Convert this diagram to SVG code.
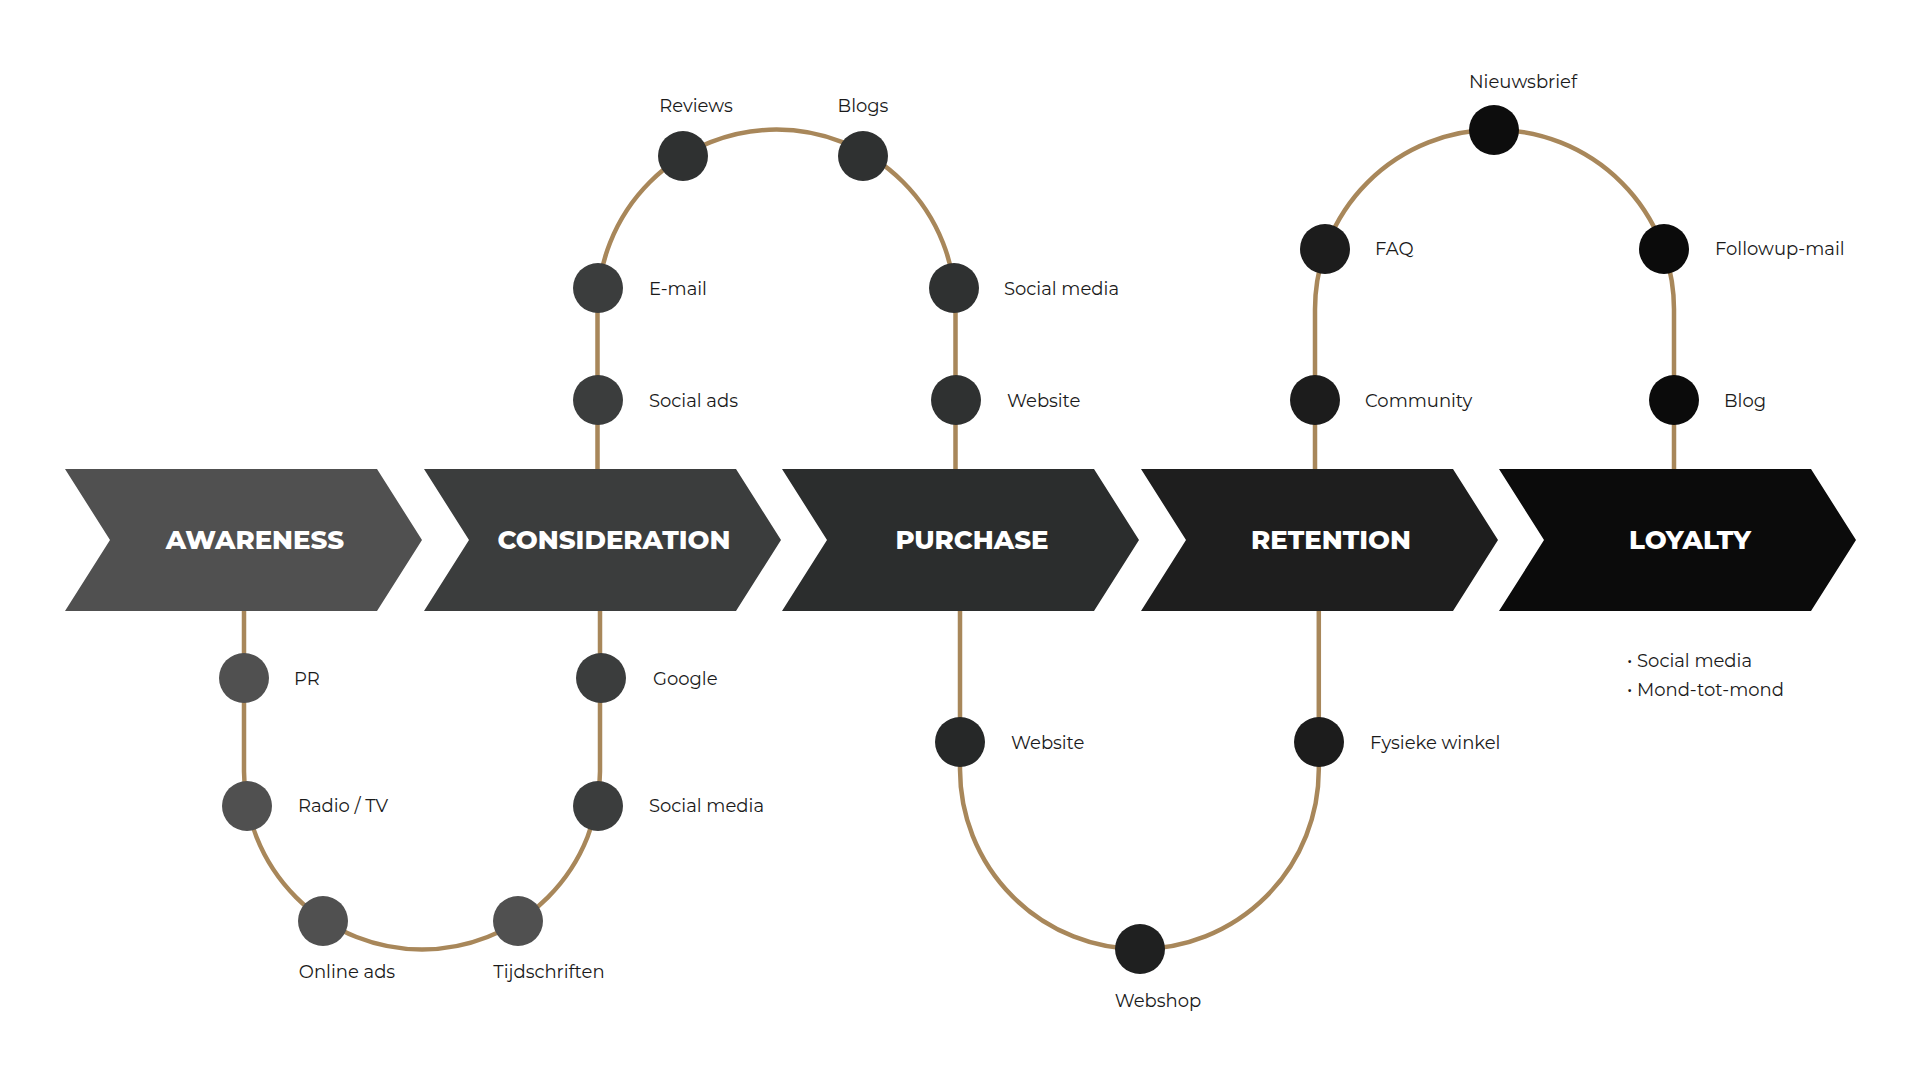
<svg xmlns="http://www.w3.org/2000/svg" width="1920" height="1080" viewBox="0 0 1920 1080">
<style>
.ln{fill:none;stroke:#a8875a;stroke-width:4.5}
.lb{font-family:Montserrat,"Open Sans","Liberation Sans",sans-serif;font-size:18px;fill:#1a1a1a}
.mid{text-anchor:middle}
.hd{font-family:Montserrat,"Open Sans","Liberation Sans",sans-serif;font-size:26px;font-weight:800;fill:#fff;text-anchor:middle}
</style>
<defs><path id="chev" d="M0,0 L312,0 L357,71 L312,142 L0,142 L45,71 Z"/></defs>
<rect width="1920" height="1080" fill="#fff"/>
<g id="connectors">
<path class="ln" d="M244,611 V771.5 A177.5,177.5 0 0 0 600,771.5 V611"/>
<path class="ln" d="M597.5,469 V308.6 A179,179 0 0 1 955.5,308.6 V469"/>
<path class="ln" d="M960,611 V769.6 A179.4,179.4 0 0 0 1318.8,769.6 V611"/>
<path class="ln" d="M1315,469 V309.2 A179.5,179.5 0 0 1 1674,309.2 V469"/>
</g>
<g id="awareness"><use href="#chev" x="65" y="469" fill="#505050"/><text class="hd" x="255" y="549">AWARENESS</text></g>
<g id="consideration"><use href="#chev" x="424" y="469" fill="#3b3d3d"/><text class="hd" x="614" y="549">CONSIDERATION</text></g>
<g id="purchase"><use href="#chev" x="782" y="469" fill="#2b2d2d"/><text class="hd" x="972" y="549">PURCHASE</text></g>
<g id="retention"><use href="#chev" x="1141" y="469" fill="#1e1e1e"/><text class="hd" x="1331" y="549">RETENTION</text></g>
<g id="loyalty"><use href="#chev" x="1499" y="469" fill="#0b0b0b"/><text class="hd" x="1690" y="549">LOYALTY</text></g>
<g id="pr"><circle cx="244" cy="678" r="25" fill="#505050"/><text class="lb" x="294" y="685">PR</text></g>
<g id="radio"><circle cx="247" cy="806" r="25" fill="#505050"/><text class="lb" x="298" y="812">Radio / TV</text></g>
<g id="onlineads"><circle cx="323" cy="921" r="25" fill="#505050"/><text class="lb mid" x="347" y="978">Online ads</text></g>
<g id="tijdschriften"><circle cx="518" cy="921" r="25" fill="#505050"/><text class="lb mid" x="549" y="978">Tijdschriften</text></g>
<g id="socialmedia1"><circle cx="598" cy="806" r="25" fill="#3b3d3d"/><text class="lb" x="649" y="812">Social media</text></g>
<g id="google"><circle cx="601" cy="678" r="25" fill="#3b3d3d"/><text class="lb" x="653" y="685">Google</text></g>
<g id="socialads"><circle cx="598" cy="400" r="25" fill="#3b3d3d"/><text class="lb" x="649" y="407">Social ads</text></g>
<g id="email"><circle cx="598" cy="288" r="25" fill="#3b3d3d"/><text class="lb" x="649" y="295">E-mail</text></g>
<g id="reviews"><circle cx="683" cy="156" r="25" fill="#2f3131"/><text class="lb mid" x="696" y="112">Reviews</text></g>
<g id="blogs"><circle cx="863" cy="156" r="25" fill="#2f3131"/><text class="lb mid" x="863" y="112">Blogs</text></g>
<g id="socialmedia2"><circle cx="954" cy="288" r="25" fill="#2f3131"/><text class="lb" x="1004" y="295">Social media</text></g>
<g id="website1"><circle cx="956" cy="400" r="25" fill="#2f3131"/><text class="lb" x="1007" y="407">Website</text></g>
<g id="website2"><circle cx="960" cy="742" r="25" fill="#262828"/><text class="lb" x="1011" y="749">Website</text></g>
<g id="webshop"><circle cx="1140" cy="949" r="25" fill="#1f2020"/><text class="lb mid" x="1158" y="1007">Webshop</text></g>
<g id="fysieke"><circle cx="1319" cy="742" r="25" fill="#1c1c1c"/><text class="lb" x="1370" y="749">Fysieke winkel</text></g>
<g id="community"><circle cx="1315" cy="400" r="25" fill="#1c1c1c"/><text class="lb" x="1365" y="407">Community</text></g>
<g id="faq"><circle cx="1325" cy="249" r="25" fill="#1c1c1c"/><text class="lb" x="1375" y="255">FAQ</text></g>
<g id="nieuwsbrief"><circle cx="1494" cy="130" r="25" fill="#0d0d0d"/><text class="lb mid" x="1523" y="88">Nieuwsbrief</text></g>
<g id="followup"><circle cx="1664" cy="249" r="25" fill="#0b0b0b"/><text class="lb" x="1715" y="255">Followup-mail</text></g>
<g id="blog"><circle cx="1674" cy="400" r="25" fill="#0b0b0b"/><text class="lb" x="1724" y="407">Blog</text></g>
<g id="loyaltylist"><text class="lb" x="1627" y="667">• Social media</text><text class="lb" x="1627" y="696">• Mond-tot-mond</text></g>
</svg>
